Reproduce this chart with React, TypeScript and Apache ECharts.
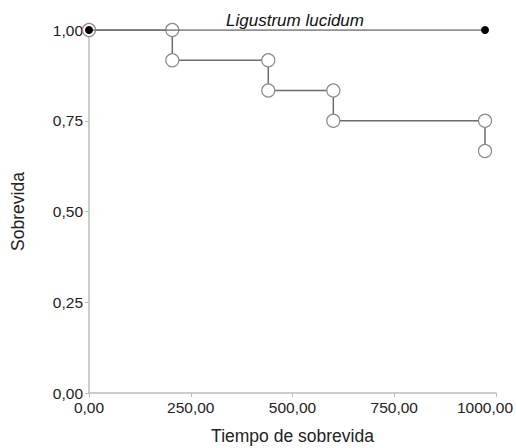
import React, { useEffect, useRef } from "react";
import * as echarts from "echarts";

const eventTimes = [0, 204.7, 440.5, 600.3, 973];
const survival = [1.0, 0.9167, 0.8333, 0.75, 0.6667];
const censoredTimes = [0, 973];
const censoredSurvival = [1.0, 1.0];
const xTicks = [0, 250, 500, 750, 1000];
const yTicks = [0, 0.25, 0.5, 0.75, 1.0];
const groupLabel = "Ligustrum lucidum";
const xName = "Tiempo de sobrevida";
const yName = "Sobrevida";

const fmt = (v: number) => v.toFixed(2).replace(".", ",");

export default function App() {
  const ref = useRef<HTMLDivElement>(null);
  useEffect(() => {
    document.body.style.margin = "0";
    if (!ref.current) return;
    const chart = echarts.init(ref.current, undefined, { renderer: "svg" });
    const stepPts: number[][] = [[eventTimes[0], survival[0]]];
    for (let i = 1; i < eventTimes.length; i++) {
      stepPts.push([eventTimes[i], survival[i - 1]]);
      stepPts.push([eventTimes[i], survival[i]]);
    }
    const flatPts = censoredTimes.map((t, i) => [t, censoredSurvival[i]]);
    const font = "'Liberation Sans', Arial, sans-serif";
    const xMax = xTicks[xTicks.length - 1];
    chart.setOption({
      animation: false,
      textStyle: { fontFamily: font },
      grid: { left: 89, right: 20, top: 30, bottom: 55, outerBoundsMode: "none", containLabel: false },
      xAxis: {
        type: "value",
        min: xTicks[0],
        max: xMax,
        interval: xTicks[1] - xTicks[0],
        name: xName,
        nameLocation: "middle",
        nameGap: 34,
        nameTextStyle: { fontSize: 17.5, color: "#222", fontFamily: font },
        axisLine: { lineStyle: { color: "#bdbdbd", width: 1.5 } },
        axisTick: { length: 4, lineStyle: { color: "#bdbdbd" } },
        axisLabel: {
          formatter: (v: number) => (v === xMax ? "{last|" + fmt(v) + "}" : fmt(v)),
          fontSize: 15.5,
          color: "#222",
          margin: 6,
          fontFamily: font,
          rich: { last: { fontSize: 15.5, color: "#222", fontFamily: font, padding: [0, 22, 0, 0] } },
        },
        splitLine: { show: false },
      },
      yAxis: {
        type: "value",
        min: yTicks[0],
        max: yTicks[yTicks.length - 1],
        interval: yTicks[1] - yTicks[0],
        name: yName,
        nameLocation: "middle",
        nameGap: 62,
        nameTextStyle: { fontSize: 17.5, color: "#222", fontFamily: font },
        axisLine: { show: true, lineStyle: { color: "#bdbdbd", width: 1.5 } },
        axisTick: { show: true, length: 4, lineStyle: { color: "#bdbdbd" } },
        axisLabel: { formatter: fmt, fontSize: 15.5, color: "#222", margin: 6, fontFamily: font },
        splitLine: { show: false },
      },
      graphic: [
        {
          type: "text",
          x: 295,
          y: 20,
          style: {
            text: groupLabel,
            fontSize: 17,
            fontStyle: "italic",
            fontFamily: font,
            fill: "#111",
            align: "center",
            verticalAlign: "middle",
          },
        },
      ],
      series: [
        {
          type: "line",
          data: stepPts,
          lineStyle: { color: "#6b6b6b", width: 1.5 },
          symbol: "circle",
          symbolSize: 13,
          showAllSymbol: true,
          itemStyle: { color: "#ffffff", borderColor: "#8a8a8a", borderWidth: 1.2 },
          z: 2,
        },
        {
          type: "line",
          data: flatPts,
          lineStyle: { color: "#6b6b6b", width: 1.5 },
          symbol: "circle",
          symbolSize: 8,
          itemStyle: { color: "#000000", borderColor: "#000", borderWidth: 0 },
          z: 3,
        },
      ],
    });
    return () => chart.dispose();
  }, []);
  return <div ref={ref} style={{ width: 516, height: 448 }} />;
}
